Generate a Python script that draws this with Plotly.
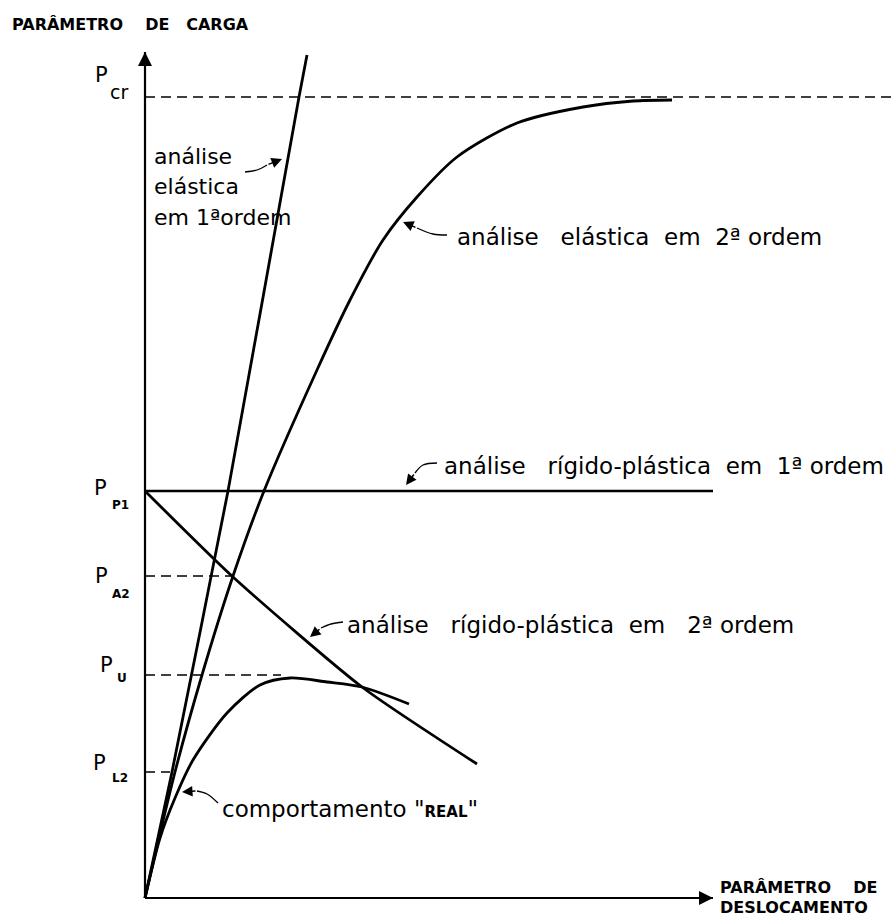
import plotly.graph_objects as go

# ---------------- data (schematic units) ----------------
elastic1_x = [0, 27, 83, 154, 162]
elastic1_y = [0, 126, 407, 801, 843]

elastic2_x = [0, 30, 57, 88, 119, 172, 205, 238, 272, 312, 372, 438, 488, 527]
elastic2_y = [0, 126, 223, 322, 407, 528, 598, 658, 701, 741, 775, 791, 797, 798]

rp1_x = [0, 568]
rp1_y = [407, 407]

rp2_x = [0, 88, 217, 332]
rp2_y = [407, 321, 211, 134]

real_x = [0, 15, 30, 48, 82, 115, 145, 182, 217, 264]
real_y = [0, 60, 100, 138, 185, 213, 220, 216, 211, 194]

level_names = ["cr", "P1", "A2", "U", "L2"]
level_values = [801, 407, 322, 223, 126]
dash_ends = [746, None, 88, 136, 25]

axis_x_end = 568
axis_y_end = 846

FONT = "DejaVu Sans"
BLACK = "#000000"

fig = go.Figure()

def curve(x, y, width=3, smoothing=0.8, dash=None, shape="spline"):
    fig.add_trace(go.Scatter(
        x=x, y=y, mode="lines",
        line=dict(color=BLACK, width=width, shape=shape, smoothing=smoothing, dash=dash),
        hoverinfo="skip", showlegend=False))

# axes
curve([0, 0], [0, axis_y_end], width=2.2, shape="linear")
curve([0, axis_x_end], [0, 0], width=2.2, shape="linear")

# dashed level lines
for v, e in zip(level_values, dash_ends):
    if e is None:
        continue
    curve([0, e], [v, v], width=1.4, shape="linear", dash="10px,6px")

# main curves
curve(elastic1_x, elastic1_y, width=2.8, smoothing=0.3)
curve(elastic2_x, elastic2_y, width=2.8, smoothing=0.8)
curve(rp1_x, rp1_y, width=2.6, shape="linear")
curve(rp2_x, rp2_y, width=2.8, smoothing=0.6)
curve(real_x, real_y, width=2.8, smoothing=0.8)

# leader curves (without the arrow tip segment)
leaders = [
    ([100, 112, 122], [726, 728, 733], (137, 739)),
    ([302, 288, 272], [663, 664, 670], (258, 676)),
    ([292, 278, 270], [435, 433, 425], (261, 413)),
    ([198, 186, 176], [276, 274, 270], (165, 261)),
    ([73, 62, 52], [95, 104, 107], (37, 106)),
]
for lx, ly, tip in leaders:
    curve(lx, ly, width=1.3, smoothing=1.0)

annotations = []
for lx, ly, tip in leaders:
    annotations.append(dict(
        x=tip[0], y=tip[1], ax=lx[-1], ay=ly[-1], xref="x", yref="y", axref="x", ayref="y",
        text="", showarrow=True, arrowhead=2, arrowsize=1.4, arrowwidth=1.5, arrowcolor=BLACK))

# axis arrows
annotations.append(dict(x=0, y=axis_y_end, ax=0, ay=axis_y_end - 40, xref="x", yref="y",
                        axref="x", ayref="y", text="", showarrow=True, arrowhead=2,
                        arrowsize=1.4, arrowwidth=2, arrowcolor=BLACK))
annotations.append(dict(x=axis_x_end, y=0, ax=axis_x_end - 40, ay=0, xref="x", yref="y",
                        axref="x", ayref="y", text="", showarrow=True, arrowhead=2,
                        arrowsize=1.4, arrowwidth=2, arrowcolor=BLACK))

def txt(x, y, s, size=22, anchor="left", bold=False, yanchor="middle"):
    annotations.append(dict(
        x=x, y=y, xref="x", yref="y", text=(f"<b>{s}</b>" if bold else s), showarrow=False,
        xanchor=anchor, yanchor=yanchor, align="left",
        font=dict(family=FONT, size=size, color=BLACK)))

NB = "\u00a0"
# axis titles
txt(-135, 874, f"PARÂMETRO{NB*4}DE{NB*3}CARGA", size=16, bold=True)
txt(573, 11, f"PARÂMETRO{NB*4}DE", size=16, bold=True)
txt(573, -9, "DESLOCAMENTO", size=16, bold=True)

# level labels
p_pos = {"cr": (-43.5, 823), "P1": (-45, 410), "A2": (-43.5, 322.5), "U": (-38.5, 233), "L2": (-45.5, 135.5)}
sub_pos = {"cr": (-37, 806), "P1": (-35, 393), "A2": (-35, 304), "U": (-30, 220.5), "L2": (-35, 120)}
for name in level_names:
    px, py = p_pos[name]
    txt(px, py, "P", size=21, anchor="center")
    sx, sy = sub_pos[name]
    if name == "cr":
        txt(sx, sy, name, size=19)
    else:
        txt(sx, sy, name, size=12, bold=True)

# curve labels
txt(7, 742, "análise", size=22)
txt(7, 712, "elástica", size=22)
txt(7, 681, "em 1ªordem", size=22)
txt(310, 661, f"análise{NB*3}elástica{NB*2}em{NB*2}2ª{NB}ordem", size=23)
txt(297, 432, f"análise{NB*3}rígido-plástica{NB*2}em{NB*2}1ª{NB}ordem", size=23)
txt(200, 273, f"análise{NB*3}rígido-plástica{NB*2}em{NB*3}2ª{NB}ordem", size=23)
txt(75, 89, "comportamento" + NB + '"<span style="font-size:15px"><b>REAL</b></span>"', size=23)

fig.update_layout(
    width=891, height=922,
    margin=dict(l=0, r=0, t=0, b=0),
    paper_bgcolor="white", plot_bgcolor="white",
    xaxis=dict(range=[-145, 746], visible=False, fixedrange=True),
    yaxis=dict(range=[-24, 898], visible=False, fixedrange=True),
    annotations=annotations,
    showlegend=False,
)

fig.write_html("out.html", config={"displayModeBar": False},
               post_script="document.body.style.margin='0';document.body.style.overflow='hidden';")
